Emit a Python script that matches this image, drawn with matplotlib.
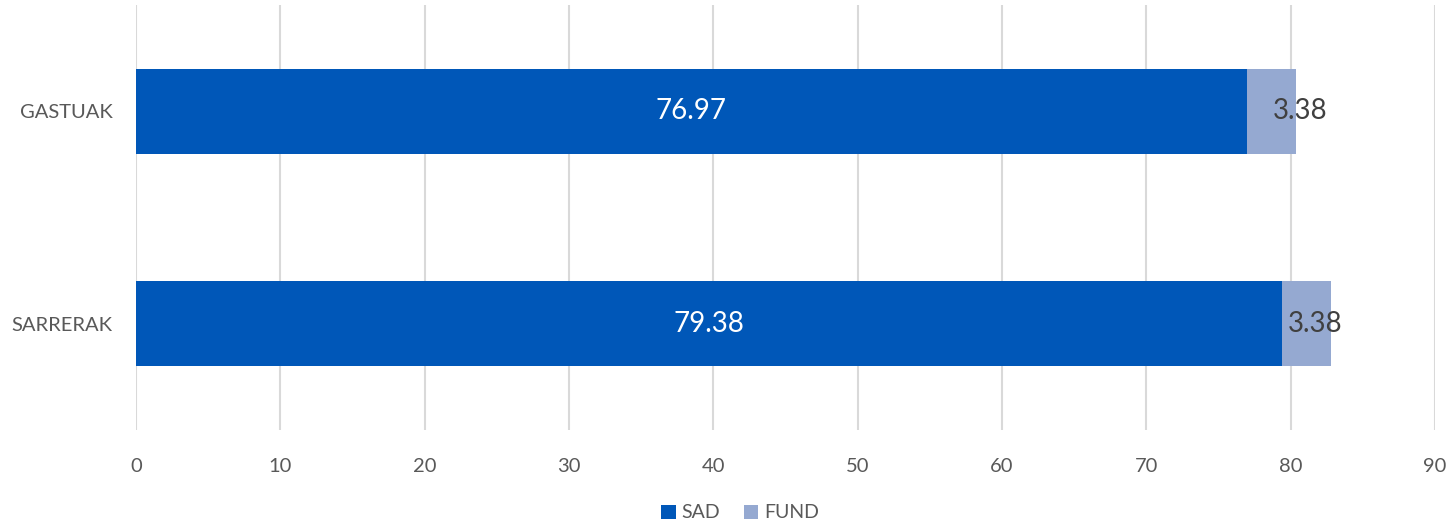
import matplotlib
matplotlib.use("Agg")
import matplotlib.pyplot as plt

categories = ["GASTUAK", "SARRERAK"]
sad = [76.97, 79.38]
fund = [3.38, 3.38]
xticks = [0, 10, 20, 30, 40, 50, 60, 70, 80, 90]

SAD_C, FUND_C = "#0057B8", "#95A9D1"
GRID = "#d9d9d9"
TXT = "#595959"
label_shift = [2.0, 0.6]  # where Excel dropped the small labels

plt.rcParams.update({"font.family": ["Lato", "DejaVu Sans"]})
fig = plt.figure(figsize=(14.55, 5.25), dpi=100)
ax = fig.add_axes([136 / 1455, 1 - 430 / 525, 1299 / 1455, 425 / 525])

y = [0.5, 1.5]
ax.barh(y, sad, height=0.4, color=SAD_C, label="SAD", zorder=3)
ax.barh(y, fund, left=sad, height=0.4, color=FUND_C, label="FUND", zorder=3)

for yi, s, f, sh in zip(y, sad, fund, label_shift):
    ax.text(s / 2, yi, f"{s:.2f}", ha="center", va="center", color="white",
            fontsize=20, zorder=4)
    ax.text(s + f / 2 + sh, yi, f"{f:.2f}", ha="center", va="center",
            color="#404040", fontsize=20, zorder=4)

ax.set_xlim(0, 90)
ax.set_ylim(2, 0)
ax.set_xticks(xticks)
ax.set_yticks(y)
ax.set_yticklabels(categories)
ax.tick_params(length=0, labelsize=14.5, colors=TXT)
ax.tick_params(axis="y", pad=17)
ax.tick_params(axis="x", pad=20)
ax.xaxis.grid(True, color=GRID, linewidth=1.5, zorder=0)
for sp in ax.spines.values():
    sp.set_visible(False)

fig.legend(loc="center", bbox_to_anchor=(740 / 1455, 1 - 513 / 525), ncol=2,
           frameon=False, fontsize=14, labelcolor=TXT, handlelength=0.75,
           handleheight=0.75, handletextpad=0.3, columnspacing=1.2)

fig.savefig("out.png", dpi=100)
